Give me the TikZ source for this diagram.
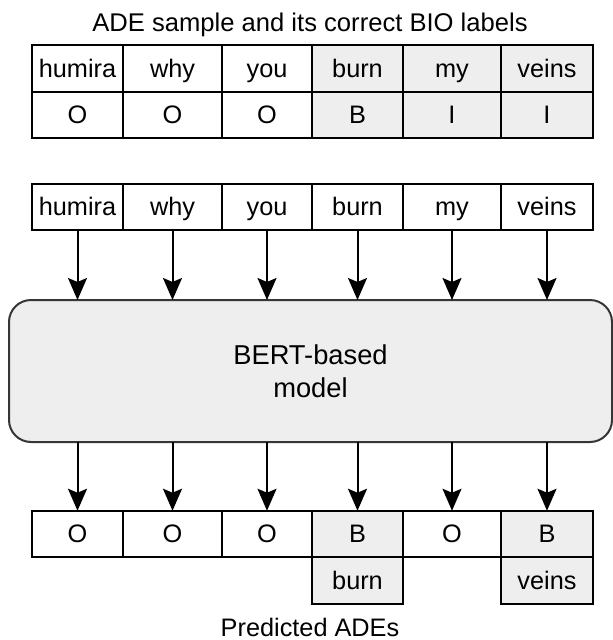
\documentclass[tikz,border=0pt]{standalone}
\usepackage{fontspec}
\setmainfont{Liberation Sans}
\usetikzlibrary{arrows.meta}
\definecolor{shade}{HTML}{EEEEEE}
\definecolor{boxline}{HTML}{363636}
\begin{document}
\begin{tikzpicture}[x=1pt,y=-1pt,
  every node/.style={font=\fontsize{25.3}{30}\selectfont},
  cell/.style={draw=black, line width=2pt, minimum height=46.5pt, inner sep=0pt, outer sep=0pt, text height=17pt, text depth=0pt},
  shadecell/.style={cell, fill=shade},
  label/.style={anchor=base, inner sep=0pt, font=\fontsize{25.6}{30}\selectfont},
  model/.style={draw=boxline, fill=shade, line width=2pt, rounded corners=22pt, minimum width=603pt, minimum height=142pt, align=center, outer sep=0pt, font=\fontsize{27.3}{33.3}\selectfont},
  arr/.style={line width=2pt, -{Stealth[length=22pt, width=19pt, inset=4pt]}}
]
\useasboundingbox (0,0) rectangle (613,640);

% title
\node[label] (title) at (310,31) {ADE sample and its correct BIO labels};

% table 1: words
\node[cell, minimum width=91pt] (a1) at (77.5,68.5) {humira};
\node[cell, minimum width=99pt] (a2) at (172.5,68.5) {why};
\node[cell, minimum width=90pt] (a3) at (267,68.5) {you};
\node[shadecell, minimum width=91pt] (a4) at (357.5,68.5) {burn};
\node[shadecell, minimum width=98pt] (a5) at (452,68.5) {my};
\node[shadecell, minimum width=92pt] (a6) at (547,68.5) {veins};
% table 1: labels
\node[cell, minimum width=91pt] (l1) at (77.5,115) {O};
\node[cell, minimum width=99pt] (l2) at (172.5,115) {O};
\node[cell, minimum width=90pt] (l3) at (267,115) {O};
\node[shadecell, minimum width=91pt] (l4) at (357.5,115) {B};
\node[shadecell, minimum width=98pt] (l5) at (452,115) {I};
\node[shadecell, minimum width=92pt] (l6) at (547,115) {I};

% input words
\node[cell, minimum width=91pt] (w1) at (77.5,207) {humira};
\node[cell, minimum width=99pt] (w2) at (172.5,207) {why};
\node[cell, minimum width=90pt] (w3) at (267,207) {you};
\node[cell, minimum width=91pt] (w4) at (357.5,207) {burn};
\node[cell, minimum width=98pt] (w5) at (452,207) {my};
\node[cell, minimum width=92pt] (w6) at (547,207) {veins};

% model
\node[model] (model) at (310.5,371) {BERT-based\\model};

% predictions
\node[cell, minimum width=91pt] (p1) at (77.5,534) {O};
\node[cell, minimum width=99pt] (p2) at (172.5,534) {O};
\node[cell, minimum width=90pt] (p3) at (267,534) {O};
\node[shadecell, minimum width=91pt] (p4) at (357.5,534) {B};
\node[cell, minimum width=98pt] (p5) at (452,534) {O};
\node[shadecell, minimum width=92pt] (p6) at (547,534) {B};
\node[shadecell, minimum width=91pt] (e4) at (357.5,580.5) {burn};
\node[shadecell, minimum width=92pt] (e6) at (547,580.5) {veins};

\node[label, font=\fontsize{25.3}{30}\selectfont] (pred) at (310,636) {Predicted ADEs};

% arrows
\foreach \i in {1,...,6}{
  \draw[arr] (w\i.south) -- (w\i.south |- model.north);
  \draw[arr] (model.south -| p\i.north) -- (p\i.north);
}
\end{tikzpicture}
\end{document}
